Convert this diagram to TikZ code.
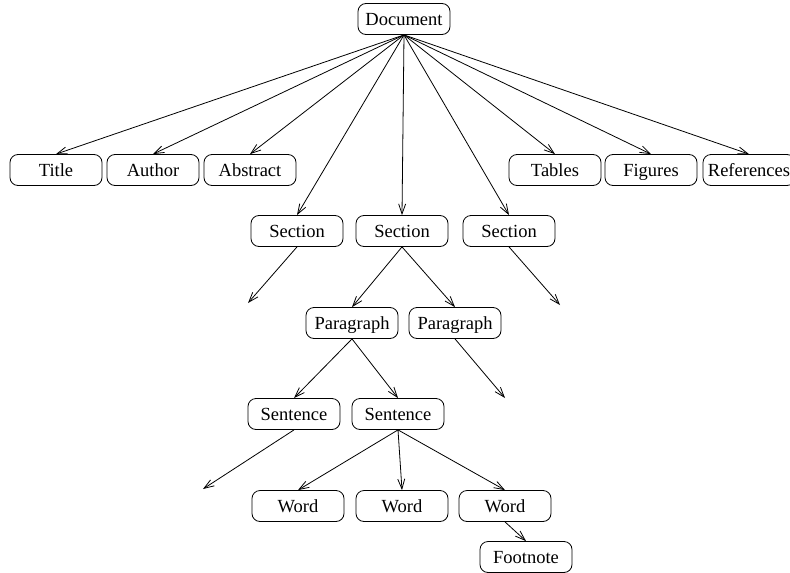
\documentclass[tikz,border=0pt]{standalone}
\usepackage{fontspec}
\setmainfont{Liberation Serif}
\usetikzlibrary{arrows.meta}
\begin{document}
\begin{tikzpicture}[x=1pt,y=-1pt,
  box/.style={draw,rounded corners=8pt,minimum width=92pt,minimum height=31pt,inner xsep=2pt,inner ysep=0pt,text height=12pt,text depth=0pt,font=\fontsize{18.5}{20}\selectfont,line width=0.8pt},
  link/.style={line width=0.8pt,-{Straight Barb[length=10pt,width=7pt,line width=0.8pt]}}]
\useasboundingbox[fill=white] (0,0) rectangle (790,573);
\node[box] (doc) at (404,19) {Document};
\node[box] (title) at (56,170) {Title};
\node[box] (author) at (153,170) {Author};
\node[box] (abstract) at (250,170) {Abstract};
\node[box] (tables) at (555,170) {Tables};
\node[box] (figures) at (651,170) {Figures};
\node[box] (refs) at (749,170) {References};
\node[box] (sec1) at (297,231) {Section};
\node[box] (sec2) at (402,231) {Section};
\node[box] (sec3) at (509,231) {Section};
\node[box] (par1) at (352,323) {Paragraph};
\node[box] (par2) at (455,323) {Paragraph};
\node[box] (sen1) at (294,414) {Sentence};
\node[box] (sen2) at (398,414) {Sentence};
\node[box] (w1) at (298,506) {Word};
\node[box] (w2) at (402,506) {Word};
\node[box] (w3) at (505,506) {Word};
\node[box] (foot) at (526,557) {Footnote};
\coordinate (d1) at (248,303);
\coordinate (d2) at (560,305);
\coordinate (d3) at (505,398);
\coordinate (d4) at (203,489);
\foreach \t in {title,author,abstract,sec1,sec2,sec3,tables,figures,refs}
  \draw[link] (doc.south) -- (\t.north);
\draw[link] (sec1.south) -- (d1);
\draw[link] (sec3.south) -- (d2);
\draw[link] (sec2.south) -- (par1.north);
\draw[link] (sec2.south) -- (par2.north);
\draw[link] (par2.south) -- (d3);
\draw[link] (par1.south) -- (sen1.north);
\draw[link] (par1.south) -- (sen2.north);
\draw[link] (sen1.south) -- (d4);
\draw[link] (sen2.south) -- (w1.north);
\draw[link] (sen2.south) -- (w2.north);
\draw[link] (sen2.south) -- (w3.north);
\draw[link] (w3.south) -- (foot.north);
\end{tikzpicture}
\end{document}
